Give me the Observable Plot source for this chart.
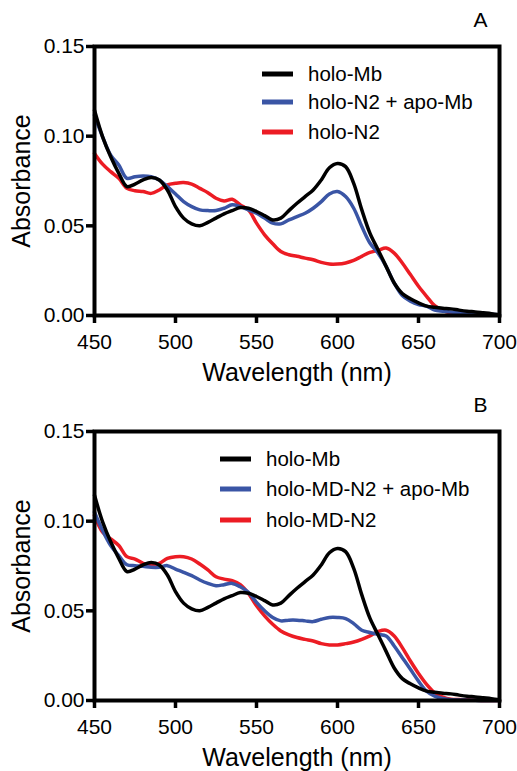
<!DOCTYPE html>
<html>
<head>
<meta charset="utf-8">
<script src="https://cdn.jsdelivr.net/npm/d3@7"></script>
<script src="https://cdn.jsdelivr.net/npm/@observablehq/plot@0.6"></script>
<style>
  body { margin: 0; background: #fff; }
  #chart { width: 517px; font-family: "Liberation Sans", Arial, sans-serif; }
  #chart svg { display: block; }
</style>
</head>
<body>
<div id="chart"></div>
<script>
// ---------- data ----------
const wavelengths = d3.range(450, 701, 5);
const xTicks = [450, 500, 550, 600, 650, 700];
const yTicks = [0, 0.05, 0.10, 0.15];
const xLabel = "Wavelength (nm)";
const yLabel = "Absorbance";
const panelLetters = ["A", "B"];

const holoMb = [
  0.1144, 0.0996, 0.0885, 0.0793, 0.0719, 0.0733, 0.0756, 0.0769, 0.0756, 0.0700,
  0.0607, 0.0543, 0.0511, 0.0500, 0.0519, 0.0543, 0.0567, 0.0585, 0.0602, 0.0598,
  0.0580, 0.0557, 0.0533, 0.0543, 0.0585, 0.0626, 0.0663, 0.0700, 0.0756, 0.0824,
  0.0848, 0.0830, 0.0737, 0.0589, 0.0459, 0.0367, 0.0274, 0.0181, 0.0122, 0.0093,
  0.0070, 0.0052, 0.0046, 0.0041, 0.0037, 0.0030, 0.0024, 0.0020, 0.0015, 0.0010,
  0.0004
];
const holoN2ApoMb = [
  0.1117, 0.0996, 0.0894, 0.0839, 0.0765, 0.0774, 0.0778, 0.0774, 0.0756, 0.0719,
  0.0678, 0.0635, 0.0607, 0.0589, 0.0585, 0.0585, 0.0598, 0.0617, 0.0607, 0.0589,
  0.0570, 0.0543, 0.0515, 0.0511, 0.0533, 0.0552, 0.0570, 0.0598, 0.0635, 0.0678,
  0.0691, 0.0663, 0.0598, 0.0496, 0.0404, 0.0348, 0.0274, 0.0181, 0.0111, 0.0080,
  0.0061, 0.0052, 0.0030, 0.0024, 0.0019, 0.0017, 0.0015, 0.0013, 0.0011, 0.0007,
  0.0004
];
const holoN2 = [
  0.0904, 0.0844, 0.0802, 0.0765, 0.0709, 0.0696, 0.0691, 0.0681, 0.0700, 0.0728,
  0.0737, 0.0741, 0.0733, 0.0709, 0.0685, 0.0654, 0.0639, 0.0648, 0.0617, 0.0589,
  0.0515, 0.0450, 0.0400, 0.0357, 0.0339, 0.0330, 0.0320, 0.0311, 0.0296, 0.0287,
  0.0287, 0.0293, 0.0307, 0.0330, 0.0352, 0.0363, 0.0376, 0.0348, 0.0293, 0.0228,
  0.0163, 0.0107, 0.0055, 0.0028, 0.0013, 0.0006, 0.0004, null, null, null,
  null
];
const holoMDN2ApoMb = [
  0.1050, 0.0948, 0.0864, 0.0808, 0.0757, 0.0752, 0.0748, 0.0743, 0.0743, 0.0752,
  0.0733, 0.0715, 0.0696, 0.0672, 0.0653, 0.0640, 0.0646, 0.0653, 0.0634, 0.0603,
  0.0547, 0.0500, 0.0463, 0.0444, 0.0448, 0.0448, 0.0444, 0.0440, 0.0453, 0.0463,
  0.0463, 0.0457, 0.0429, 0.0392, 0.0379, 0.0369, 0.0360, 0.0304, 0.0239, 0.0174,
  0.0108, 0.0052, 0.0024, 0.0011, 0.0004, 0.0003, 0.0002, 0.0001, 0.0000, 0.0000,
  0.0000
];
const holoMDN2 = [
  0.1032, 0.0938, 0.0901, 0.0864, 0.0802, 0.0789, 0.0765, 0.0756, 0.0765, 0.0793,
  0.0802, 0.0802, 0.0789, 0.0761, 0.0728, 0.0690, 0.0677, 0.0668, 0.0646, 0.0597,
  0.0528, 0.0472, 0.0425, 0.0388, 0.0366, 0.0351, 0.0341, 0.0332, 0.0317, 0.0310,
  0.0310, 0.0317, 0.0326, 0.0341, 0.0360, 0.0384, 0.0392, 0.0360, 0.0295, 0.0220,
  0.0151, 0.0090, 0.0043, 0.0019, 0.0007, 0.0005, 0.0004, 0.0002, 0.0000, 0.0000,
  0.0000
];

const seriesNamesA = ["holo-Mb", "holo-N2 + apo-Mb", "holo-N2"];
const seriesNamesB = ["holo-Mb", "holo-MD-N2 + apo-Mb", "holo-MD-N2"];
const seriesColors = ["#000000", "#3a55a5", "#ec1c24"];

// ---------- drawing ----------
const FONT = "'Liberation Sans', Arial, sans-serif";

function toRows(names, arrays) {
  const rows = [];
  names.forEach((name, k) => {
    arrays[k].forEach((v, i) => rows.push({series: name, order: k, wl: wavelengths[i], abs: v}));
  });
  return rows;
}

function panel(names, arrays, letter, height, legendX, legendRows) {
  const rows = toRows(names, arrays);
  const drawOrder = [2, 1, 0];
  const marks = [];
  for (const k of drawOrder) {
    marks.push(Plot.line(rows.filter(d => d.order === k && d.abs != null), {
      x: "wl", y: "abs", stroke: seriesColors[k], strokeWidth: 3.5,
      curve: "catmull-rom"
    }));
  }
  marks.push(
    Plot.frame({stroke: "#000", strokeWidth: 4}),
    Plot.axisX({ticks: xTicks, tickSize: 8, tickPadding: 11, strokeWidth: 3.5,
      fontSize: 21, label: null, tickFormat: d3.format("d")}),
    Plot.axisY({ticks: yTicks, tickSize: 8, tickPadding: 2, strokeWidth: 3.5,
      fontSize: 21, label: null, tickFormat: d3.format(".2f")}),
    Plot.text([xLabel], {frameAnchor: "bottom", dy: 57, lineAnchor: "middle", textAnchor: "middle",
      fontSize: 25, fill: "#000"}),
    Plot.text([yLabel], {frameAnchor: "left", dx: -73, rotate: -90, lineAnchor: "middle", textAnchor: "middle",
      fontSize: 25, fill: "#000"}),
    Plot.text([letter], {frameAnchor: "top-right", dx: -19, dy: -26, fontSize: 21,
      textAnchor: "middle", lineAnchor: "middle", fill: "#000"})
  );
  const svg = Plot.plot({
    width: 517, height,
    marginLeft: 94, marginRight: 18, marginTop: 46, marginBottom: height - 315,
    x: {domain: [450, 700]},
    y: {domain: [0, 0.15]},
    style: {fontFamily: FONT, color: "#000", background: "#fff", overflow: "visible"},
    marks
  });
  const g = d3.select(svg).append("g").attr("text-anchor", "start");
  names.forEach((name, k) => {
    const y = legendRows[k];
    g.append("line").attr("x1", legendX).attr("x2", legendX + 31)
      .attr("y1", y).attr("y2", y)
      .attr("stroke", seriesColors[k]).attr("stroke-width", 5);
    g.append("text").attr("x", legendX + 46).attr("y", y).attr("dy", "0.36em")
      .attr("text-anchor", "start")
      .attr("font-size", 20.5).attr("font-family", FONT).attr("fill", "#000").text(name);
  });
  return svg;
}

const chart = document.getElementById("chart");
chart.appendChild(panel(seriesNamesA, [holoMb, holoN2ApoMb, holoN2], panelLetters[0], 385, 262, [74, 102, 132]));
chart.appendChild(panel(seriesNamesB, [holoMb, holoMDN2ApoMb, holoMDN2], panelLetters[1], 386, 220, [74, 104, 135]));
</script>
</body>
</html>
